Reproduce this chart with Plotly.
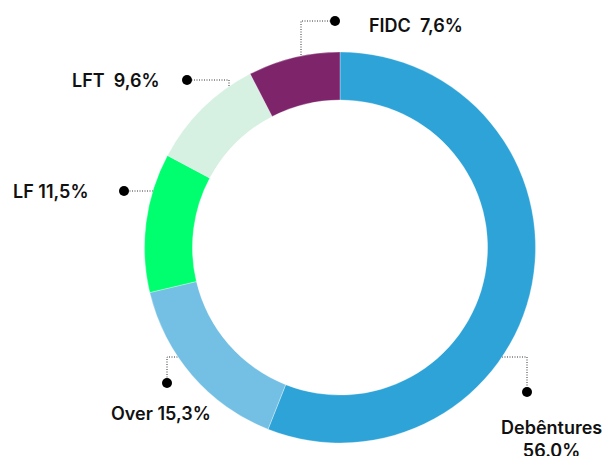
import plotly.graph_objects as go

# ---- data ----
categories = ["Debêntures", "Over", "LF", "LFT", "FIDC"]
shares = [56.0, 15.3, 11.5, 9.6, 7.6]
label_texts = ["Debêntures<br>56.0%", "Over 15,3%", "LF 11,5%", "LFT  9,6%", "FIDC  7,6%"]
colors = ["#2da3d8", "#74c0e4", "#00ff6e", "#d6f0e2", "#7e246b"]

W, H = 613, 456

# ---- layout helpers (pixel positions of leaders / labels) ----
leaders = {
    "Debêntures": [(487, 357), (527, 357), (527, 392)],
    "Over": [(185, 357), (167, 357), (167, 383)],
    "LF": [(168, 191), (124, 191)],
    "LFT": [(229, 96), (229, 80), (187, 80)],
    "FIDC": [(301, 60), (301, 21), (335, 21)],
}
label_pos = {
    "Debêntures": (551, 439, "center"),
    "Over": (161, 413, "center"),
    "LF": (91, 191, "right"),
    "LFT": (162, 80, "right"),
    "FIDC": (367, 25, "left"),
}

fig = go.Figure()
fig.add_trace(go.Pie(
    labels=categories, values=shares, sort=False, direction="clockwise", rotation=0,
    hole=0.755, marker=dict(colors=colors, line=dict(color="rgba(255,255,255,0.6)", width=0.5)),
    textinfo="none", hoverinfo="label+percent", showlegend=False,
    domain=dict(x=[144 / W, 536 / W], y=[(H - 443) / H, (H - 52) / H]),
))

for cat in categories:
    pts = leaders[cat]
    xs = [p[0] for p in pts]
    ys = [p[1] for p in pts]
    fig.add_trace(go.Scatter(x=xs, y=ys, mode="lines", line=dict(color="#333", width=1, dash="1px,1.5px"),
                             hoverinfo="skip", showlegend=False))
    fig.add_trace(go.Scatter(x=[xs[-1]], y=[ys[-1]], mode="markers",
                             marker=dict(color="#000", size=10), hoverinfo="skip", showlegend=False))

annotations = []
for cat, txt in zip(categories, label_texts):
    x, y, anc = label_pos[cat]
    annotations.append(dict(x=x, y=y, xref="x", yref="y", text=txt, showarrow=False,
                            xanchor=anc, yanchor="middle", align="center",
                            font=dict(family="Inter", size=18, color="#111", weight=600)))

fig.update_layout(
    width=W, height=H, margin=dict(l=0, r=0, t=0, b=0),
    paper_bgcolor="white", plot_bgcolor="rgba(0,0,0,0)",
    xaxis=dict(range=[0, W], visible=False, domain=[0, 1], fixedrange=True),
    yaxis=dict(range=[H, 0], visible=False, domain=[0, 1], fixedrange=True),
    annotations=annotations,
)
fig.write_html("out.html", config={"displayModeBar": False},
               post_script="document.body.style.margin='0';document.body.style.overflow='hidden';")
